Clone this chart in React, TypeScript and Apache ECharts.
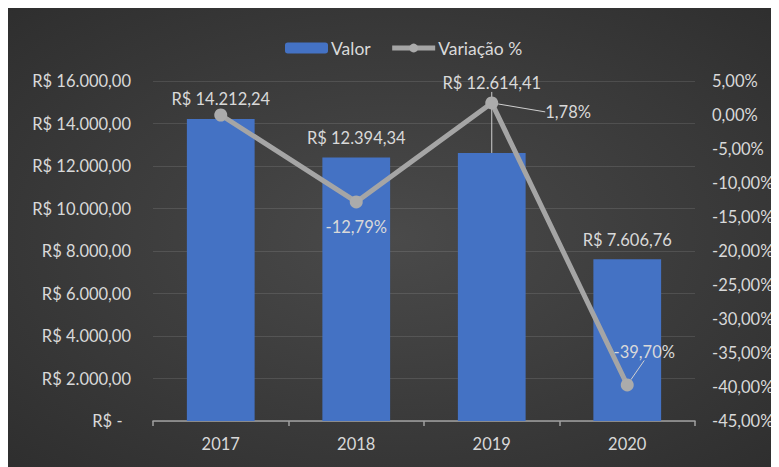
import React, { useEffect, useRef } from 'react';
import * as echarts from 'echarts';

const categories = ['2017', '2018', '2019', '2020'];
const valores = [14212.24, 12394.34, 12614.41, 7606.76];
const variacoes = [0, -12.79, 1.78, -39.7];
const leftAxis = { min: 0, max: 16000, interval: 2000 };
const rightAxis = { min: -45, max: 5, interval: 5 };

const FONT = 'Lato';
const TXT = '#d9d9d9';
const FS = 16.5;

function fmtBRL(v: number): string {
  const [i, d] = v.toFixed(2).split('.');
  return 'R$ ' + i.replace(/\B(?=(\d{3})+(?!\d))/g, '.') + ',' + d;
}
function fmtPct(v: number): string {
  return v.toFixed(2).replace('.', ',') + '%';
}

export default function App() {
  const ref = useRef<HTMLDivElement>(null);
  useEffect(() => {
    if (!ref.current) return;
    const chart = echarts.init(ref.current, undefined, { renderer: 'svg' });
    const barData = valores.map((v, i) => {
      if (i === 2) {
        return { value: v, labelLine: { show: true } };
      }
      return { value: v };
    });
    const lineData = variacoes.map((v, i) => {
      if (i === 0) return { value: v, label: { show: false } };
      if (i === 1) return { value: v, label: { position: 'bottom', distance: 10 } };
      if (i === 2) return { value: v, label: { position: 'right' }, labelLine: { show: true } };
      return { value: v, label: { position: 'top' }, labelLine: { show: true } };
    });
    chart.setOption({
      animation: false,
      backgroundColor: {
        type: 'radial',
        x: 0.5,
        y: 0.5,
        r: 1,
        colorStops: [
          { offset: 0, color: '#4a4a4a' },
          { offset: 1, color: '#232323' },
        ],
      },
      textStyle: { fontFamily: FONT },
      legend: {
        top: 26,
        left: 272,
        itemWidth: 43,
        itemHeight: 11,
        itemGap: 19,
        textStyle: { color: TXT, fontSize: 17.5, fontFamily: FONT, padding: [0, 0, 0, -2] },
        data: [
          { name: 'Valor' },
          { name: 'Variação %', lineStyle: { width: 5, color: '#a5a5a5' }, itemStyle: { color: '#ababab' } },
        ],
      },
      grid: { left: 145, right: 84, top: 73, bottom: 46 },
      xAxis: {
        type: 'category',
        data: categories,
        axisLine: { show: true, lineStyle: { color: '#a0a0a0', width: 1.5 } },
        axisTick: { show: true, length: 5, lineStyle: { color: '#a0a0a0', width: 1.5 } },
        axisLabel: { color: TXT, fontSize: FS, fontFamily: FONT, margin: 14 },
      },
      yAxis: [
        {
          type: 'value',
          min: leftAxis.min,
          max: leftAxis.max,
          interval: leftAxis.interval,
          axisLine: { show: false },
          axisTick: { show: false },
          splitLine: { lineStyle: { color: 'rgba(255,255,255,0.11)', width: 1 } },
          axisLabel: {
            color: TXT,
            fontSize: FS,
            fontFamily: FONT,
            margin: 22,
            formatter: (v: number) => (v === 0 ? 'R$ -  ' : fmtBRL(v)),
          },
        },
        {
          type: 'value',
          min: rightAxis.min,
          max: rightAxis.max,
          interval: rightAxis.interval,
          axisLine: { show: false },
          axisTick: { show: false },
          splitLine: { show: false },
          axisLabel: {
            color: TXT,
            fontSize: FS,
            fontFamily: FONT,
            margin: 17,
            formatter: (v: number) => fmtPct(v),
          },
        },
      ],
      series: [
        {
          name: 'Valor',
          type: 'bar',
          yAxisIndex: 0,
          barWidth: '50%',
          data: barData,
          itemStyle: { color: '#4472c4' },
          label: {
            show: true,
            position: 'top',
            distance: 11,
            color: TXT,
            fontSize: FS,
            fontFamily: FONT,
            formatter: (p: any) => fmtBRL(p.value),
          },
          labelLine: { show: false, lineStyle: { color: '#d0d0d0', width: 1 } },
          labelLayout: (p: any) => (p.dataIndex === 2 ? { dy: -50 } : {}),
          z: 1,
        },
        {
          name: 'Variação %',
          type: 'line',
          yAxisIndex: 1,
          data: lineData,
          symbol: 'circle',
          symbolSize: 13,
          lineStyle: { color: '#a5a5a5', width: 5 },
          itemStyle: { color: '#ababab' },
          label: {
            show: true,
            color: TXT,
            fontSize: FS,
            fontFamily: FONT,
            formatter: (p: any) => fmtPct(p.value),
          },
          labelLine: { show: false, lineStyle: { color: '#d0d0d0', width: 1 } },
          labelLayout: (p: any) => {
            if (p.dataIndex === 2) return { dx: 42, dy: 9 };
            if (p.dataIndex === 3) return { dx: 17, dy: -13 };
            return {};
          },
          z: 3,
        },
      ],
    });
    return () => chart.dispose();
  }, []);
  return <div ref={ref} style={{ width: 771, height: 459 }} />;
}
